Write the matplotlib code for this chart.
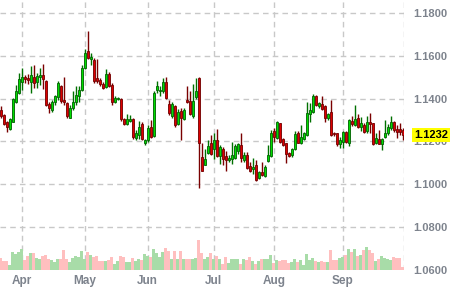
import numpy as np
import pandas as pd
import matplotlib
matplotlib.use('Agg')
import matplotlib.pyplot as plt
import matplotlib.transforms as mtransforms

plt.rcParams['font.family'] = ['Liberation Sans', 'DejaVu Sans']

# trading days (US holidays skipped)
holidays = ['2016-03-25', '2016-05-30', '2016-07-04', '2016-09-05']
dates = pd.bdate_range('2016-03-22', '2016-09-30')
dates = dates[~dates.isin(pd.to_datetime(holidays))]

opens = [1.1348, 1.1324, 1.1289, 1.1257, 1.1293, 1.1387, 1.1427, 1.1479, 1.1501, 1.1498,
         1.1479, 1.1502, 1.1479, 1.1502, 1.1510, 1.1485, 1.1376, 1.1348, 1.1384, 1.1406,
         1.1458, 1.1395, 1.1380, 1.1312, 1.1356, 1.1384, 1.1411, 1.1443, 1.1545, 1.1624,
         1.1587, 1.1581, 1.1498, 1.1490, 1.1469, 1.1453, 1.1517, 1.1466, 1.1387, 1.1398,
         1.1400, 1.1304, 1.1282, 1.1296, 1.1304, 1.1217, 1.1230, 1.1280, 1.1191, 1.1206,
         1.1266, 1.1227, 1.1443, 1.1435, 1.1435, 1.1479, 1.1376, 1.1321, 1.1367, 1.1280,
         1.1343, 1.1304, 1.1395, 1.1390, 1.1317, 1.1406, 1.1498, 1.1127, 1.1091, 1.1148,
         1.1191, 1.1164, 1.1206, 1.1131, 1.1167, 1.1131, 1.1112, 1.1120, 1.1123, 1.1154,
         1.1183, 1.1113, 1.1139, 1.1083, 1.1069, 1.1088, 1.1028, 1.1057, 1.1038, 1.1107,
         1.1132, 1.1249, 1.1217, 1.1285, 1.1214, 1.1191, 1.1146, 1.1139, 1.1164, 1.1238,
         1.1191, 1.1214, 1.1230, 1.1328, 1.1337, 1.1411, 1.1364, 1.1375, 1.1364, 1.1309,
         1.1337, 1.1241, 1.1238, 1.1187, 1.1198, 1.1246, 1.1195, 1.1296, 1.1277, 1.1309,
         1.1269, 1.1277, 1.1249, 1.1290, 1.1285, 1.1191, 1.1214, 1.1186, 1.1222, 1.1238,
         1.1261, 1.1290, 1.1258, 1.1258, 1.1253]
highs = [1.1367, 1.1330, 1.1297, 1.1310, 1.1403, 1.1466, 1.1521, 1.1542, 1.1513, 1.1515,
         1.1553, 1.1557, 1.1521, 1.1545, 1.1564, 1.1490, 1.1387, 1.1395, 1.1419, 1.1482,
         1.1466, 1.1500, 1.1387, 1.1372, 1.1435, 1.1458, 1.1458, 1.1557, 1.1631, 1.1715,
         1.1616, 1.1592, 1.1584, 1.1498, 1.1479, 1.1537, 1.1525, 1.1474, 1.1411, 1.1410,
         1.1403, 1.1309, 1.1328, 1.1325, 1.1309, 1.1254, 1.1298, 1.1293, 1.1214, 1.1277,
         1.1301, 1.1435, 1.1482, 1.1458, 1.1498, 1.1501, 1.1395, 1.1387, 1.1372, 1.1353,
         1.1356, 1.1356, 1.1461, 1.1435, 1.1469, 1.1498, 1.1501, 1.1191, 1.1167, 1.1206,
         1.1230, 1.1238, 1.1258, 1.1183, 1.1175, 1.1154, 1.1135, 1.1198, 1.1186, 1.1191,
         1.1238, 1.1151, 1.1151, 1.1104, 1.1123, 1.1112, 1.1064, 1.1104, 1.1088, 1.1183,
         1.1253, 1.1261, 1.1296, 1.1288, 1.1217, 1.1195, 1.1151, 1.1170, 1.1249, 1.1249,
         1.1277, 1.1246, 1.1383, 1.1380, 1.1422, 1.1419, 1.1387, 1.1411, 1.1372, 1.1332,
         1.1395, 1.1246, 1.1242, 1.1222, 1.1249, 1.1249, 1.1304, 1.1321, 1.1372, 1.1328,
         1.1313, 1.1285, 1.1317, 1.1332, 1.1288, 1.1238, 1.1254, 1.1217, 1.1301, 1.1280,
         1.1321, 1.1296, 1.1277, 1.1285, 1.1261]
lows = [1.1310, 1.1275, 1.1246, 1.1252, 1.1290, 1.1380, 1.1420, 1.1443, 1.1474, 1.1470,
        1.1427, 1.1450, 1.1450, 1.1466, 1.1447, 1.1364, 1.1332, 1.1337, 1.1372, 1.1395,
        1.1380, 1.1372, 1.1309, 1.1309, 1.1348, 1.1372, 1.1387, 1.1435, 1.1537, 1.1588,
        1.1560, 1.1474, 1.1474, 1.1458, 1.1447, 1.1450, 1.1453, 1.1372, 1.1380, 1.1392,
        1.1296, 1.1277, 1.1277, 1.1293, 1.1211, 1.1206, 1.1214, 1.1206, 1.1183, 1.1198,
        1.1217, 1.1222, 1.1427, 1.1411, 1.1427, 1.1400, 1.1324, 1.1309, 1.1269, 1.1277,
        1.1206, 1.1301, 1.1380, 1.1324, 1.1309, 1.1400, 1.0981, 1.1060, 1.1088, 1.1143,
        1.1135, 1.1120, 1.1128, 1.1096, 1.1091, 1.1064, 1.1104, 1.1096, 1.1120, 1.1143,
        1.1104, 1.1104, 1.1069, 1.1057, 1.1049, 1.1013, 1.1025, 1.1038, 1.1033, 1.1104,
        1.1128, 1.1198, 1.1214, 1.1195, 1.1180, 1.1101, 1.1128, 1.1128, 1.1159, 1.1191,
        1.1186, 1.1206, 1.1227, 1.1293, 1.1332, 1.1368, 1.1356, 1.1346, 1.1290, 1.1301,
        1.1227, 1.1227, 1.1180, 1.1170, 1.1170, 1.1195, 1.1180, 1.1272, 1.1274, 1.1265,
        1.1249, 1.1242, 1.1242, 1.1242, 1.1183, 1.1186, 1.1186, 1.1159, 1.1217, 1.1230,
        1.1253, 1.1246, 1.1217, 1.1230, 1.1206]
closes = [1.1317, 1.1280, 1.1270, 1.1304, 1.1400, 1.1438, 1.1494, 1.1501, 1.1494, 1.1490,
          1.1509, 1.1474, 1.1506, 1.1513, 1.1494, 1.1372, 1.1359, 1.1384, 1.1411, 1.1474,
          1.1390, 1.1384, 1.1317, 1.1356, 1.1384, 1.1419, 1.1443, 1.1545, 1.1616, 1.1592,
          1.1597, 1.1482, 1.1482, 1.1469, 1.1450, 1.1517, 1.1458, 1.1387, 1.1403, 1.1403,
          1.1306, 1.1282, 1.1304, 1.1304, 1.1222, 1.1242, 1.1269, 1.1211, 1.1206, 1.1261,
          1.1222, 1.1427, 1.1458, 1.1443, 1.1479, 1.1403, 1.1332, 1.1376, 1.1277, 1.1340,
          1.1312, 1.1348, 1.1387, 1.1328, 1.1390, 1.1435, 1.1191, 1.1064, 1.1120, 1.1180,
          1.1143, 1.1206, 1.1132, 1.1172, 1.1120, 1.1112, 1.1124, 1.1135, 1.1178, 1.1186,
          1.1124, 1.1135, 1.1076, 1.1061, 1.1080, 1.1022, 1.1057, 1.1044, 1.1080, 1.1135,
          1.1242, 1.1222, 1.1293, 1.1198, 1.1183, 1.1143, 1.1132, 1.1164, 1.1233, 1.1195,
          1.1222, 1.1241, 1.1332, 1.1348, 1.1411, 1.1372, 1.1380, 1.1353, 1.1309, 1.1328,
          1.1230, 1.1233, 1.1186, 1.1206, 1.1246, 1.1198, 1.1301, 1.1280, 1.1304, 1.1269,
          1.1285, 1.1246, 1.1293, 1.1280, 1.1186, 1.1217, 1.1189, 1.1214, 1.1238, 1.1269,
          1.1293, 1.1254, 1.1246, 1.1246, 1.1232]
volume = [36, 27, 27, 14, 53, 47, 53, 62, 29, 41, 50, 50, 35, 33, 41, 43, 32, 29, 23, 32,
          32, 59, 32, 23, 36, 41, 38, 56, 33, 53, 44, 38, 41, 27, 27, 27, 29, 38, 17, 27,
          41, 38, 23, 23, 35, 27, 32, 29, 47, 41, 39, 63, 49, 39, 54, 64, 56, 33, 55, 33,
          56, 33, 33, 33, 31, 36, 89, 50, 33, 38, 50, 31, 41, 33, 17, 38, 20, 31, 31, 31,
          18, 32, 29, 38, 27, 17, 27, 32, 32, 33, 44, 19, 29, 27, 30, 30, 20, 23, 32, 23,
          29, 14, 47, 29, 35, 27, 23, 26, 23, 23, 59, 30, 30, 35, 39, 44, 62, 53, 62, 41,
          44, 59, 68, 59, 51, 27, 32, 41, 35, 32, 29, 38, 35, 36, 9]
last_price = 1.1232
price_ticks = [1.06, 1.08, 1.10, 1.12, 1.14, 1.16, 1.18]

o = np.array(opens)
h = np.array(highs)
l = np.array(lows)
c = np.array(closes)
x = np.arange(len(dates))
up = c >= o

# first trading day of each month (skip March)
months = pd.Series(dates.month)
month_idx = [i for i in range(1, len(dates)) if months[i] != months[i - 1]]
month_lbl = [dates[i].strftime('%b') for i in month_idx]

gray = '#7d838d'
dash = (0, (4, 3))

fig = plt.figure(figsize=(4.54, 2.90), dpi=100)
pos = [0, 20.3 / 290, 404 / 454, 269.7 / 290]
ax = fig.add_axes(pos)
axv = fig.add_axes(pos, sharex=ax)
axv.patch.set_alpha(0)

xlim = (-0.233, 134.43)
ax.set_xlim(*xlim)
ax.set_ylim(1.06, 1.18622)

# grid
for yv in price_ticks:
    ax.axhline(yv, color='#c8c8c8', lw=1, ls=dash, zorder=0)
for xi in month_idx:
    ax.axvline(xi, color='#c8c8c8', lw=1, ls=dash, zorder=0)
ax.axvline(xlim[1] - 0.15, color='#c8c8c8', lw=1, ls=dash, zorder=0)

# candles
wick_col = np.where(up, '#007000', '#7a0000')
fill_col = np.where(up, '#00dd00', '#dd0000')
edge_col = np.where(up, '#006000', '#700000')
ax.vlines(x, l, h, colors=wick_col, lw=1.0, zorder=2)
body_lo = np.minimum(o, c)
body_h = np.maximum(np.abs(c - o), 0.00015)
ax.bar(x, body_h, bottom=body_lo, width=0.75, color=fill_col,
       edgecolor=edge_col, linewidth=0.6, zorder=3)

# volume
vol_col = np.where(up, '#a8dca8', '#ffbfbf')
axv.bar(x, volume, width=1.0, color=vol_col, linewidth=0)
axv.set_ylim(0, 809)
axv.axis('off')

for s in ax.spines.values():
    s.set_visible(False)
ax.yaxis.tick_right()
ax.set_yticks(price_ticks)
ax.set_yticklabels(['%.4f' % v for v in price_ticks], fontweight='bold')
ax.tick_params(axis='y', length=0, pad=7, labelsize=8, labelcolor=gray)
ax.set_xticks(month_idx)
ax.set_xticklabels(month_lbl, fontweight='bold')
ax.tick_params(axis='x', length=0, pad=4, labelsize=8.5, labelcolor=gray)

trans = mtransforms.blended_transform_factory(ax.transAxes, ax.transData)
ax.text(1.0 + 10.5 / 404, last_price, '%.4f' % last_price, transform=trans,
        ha='left', va='center', fontsize=8, fontweight='bold', color='black',
        bbox=dict(boxstyle='square,pad=0.18', fc='#ffff00', ec='none'),
        zorder=10, clip_on=False)

fig.savefig('out.png', dpi=100)
